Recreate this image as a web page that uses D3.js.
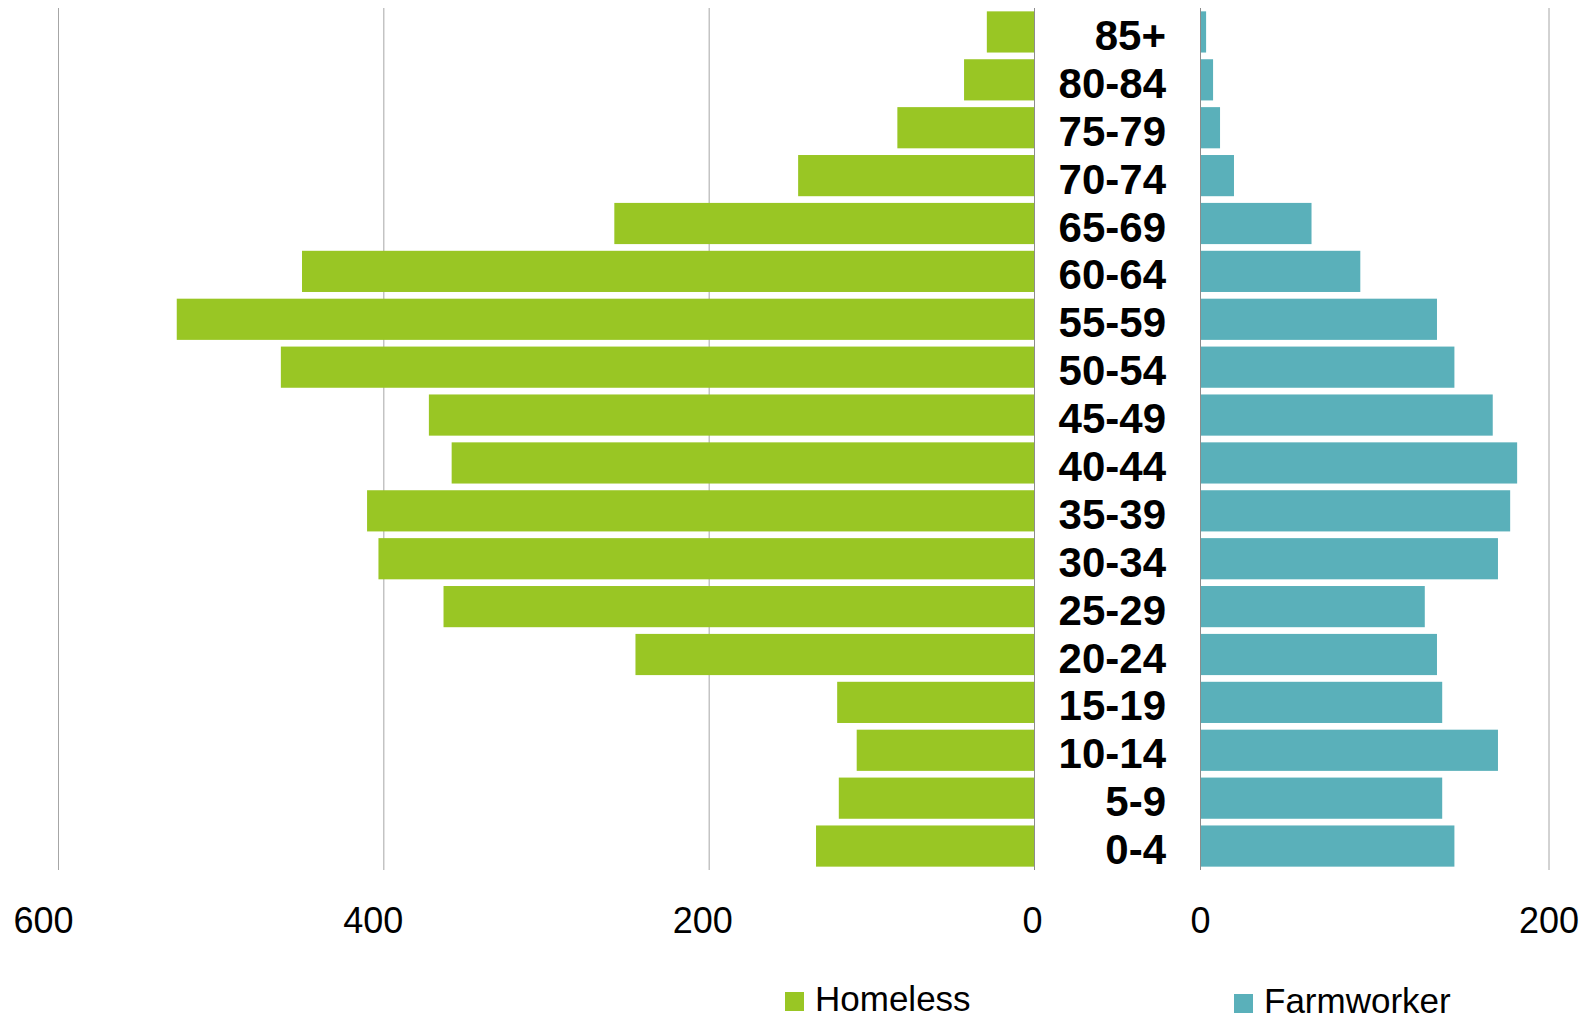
<!DOCTYPE html>
<html>
<head>
<meta charset="utf-8">
<script src="https://cdn.jsdelivr.net/npm/d3@7"></script>
<style>
  html, body { margin: 0; padding: 0; background: #fff; }
  svg { display: block; font-family: "Liberation Sans", Arial, sans-serif; }
</style>
</head>
<body>
<div id="chart"></div>
<script>
// age groups, top to bottom
const ageGroups = ["85+", "80-84", "75-79", "70-74", "65-69", "60-64", "55-59", "50-54", "45-49",
  "40-44", "35-39", "30-34", "25-29", "20-24", "15-19", "10-14", "5-9", "0-4"];
const homeless = [29, 43, 84, 145, 258, 450, 527, 463, 372, 358, 410, 403, 363, 245, 121, 109, 120, 134];
const farmworker = [3.5, 7.5, 11.5, 19.5, 64, 92, 136, 146, 168, 182, 178, 171, 129, 136, 139, 171, 139, 146];
const leftTicks = [600, 400, 200, 0];
const rightTicks = [0, 200];
const seriesNames = ["Homeless", "Farmworker"];

const width = 1585, height = 1021;
const green = "#99c624", teal = "#5ab0ba";

const svg = d3.select("#chart").append("svg")
  .attr("width", width)
  .attr("height", height);

const y = d3.scaleBand()
  .domain(ageGroups)
  .range([8, 870])
  .paddingInner(0.14)
  .paddingOuter(0.07);

const xLeft = d3.scaleLinear().domain([0, 600]).range([1034, 58]);
const xRight = d3.scaleLinear().domain([0, 200]).range([1200, 1548.5]);
// the left tick labels sit a bit off their gridlines in the original
const xLeftLabel = d3.scaleLinear().domain([0, 600]).range([1032, 43]);

// gridlines
svg.append("g")
  .selectAll("line")
  .data(leftTicks.filter(d => d !== 0))
  .join("line")
  .attr("x1", d => xLeft(d) + 0.5).attr("x2", d => xLeft(d) + 0.5)
  .attr("y1", 8).attr("y2", 870)
  .attr("stroke", "#a6a6a6").attr("stroke-width", 1);

svg.append("g")
  .selectAll("line")
  .data(rightTicks.filter(d => d !== 0))
  .join("line")
  .attr("x1", d => xRight(d) + 0.5).attr("x2", d => xRight(d) + 0.5)
  .attr("y1", 8).attr("y2", 870)
  .attr("stroke", "#a6a6a6").attr("stroke-width", 1);

// bars
svg.append("g")
  .selectAll("rect")
  .data(homeless)
  .join("rect")
  .attr("x", d => xLeft(d))
  .attr("y", (d, i) => y(ageGroups[i]))
  .attr("width", d => xLeft(0) - xLeft(d))
  .attr("height", y.bandwidth())
  .attr("fill", green);

svg.append("g")
  .selectAll("rect")
  .data(farmworker)
  .join("rect")
  .attr("x", xRight(0))
  .attr("y", (d, i) => y(ageGroups[i]))
  .attr("width", d => xRight(d) - xRight(0))
  .attr("height", y.bandwidth())
  .attr("fill", teal);

// zero lines
[xLeft(0), xRight(0)].forEach(x0 => {
  svg.append("line")
    .attr("x1", x0 + 0.5).attr("x2", x0 + 0.5)
    .attr("y1", 8).attr("y2", 870)
    .attr("stroke", "#8c8c8c").attr("stroke-width", 1);
});

// category labels
svg.append("g")
  .attr("font-size", 42)
  .attr("font-weight", "bold")
  .attr("text-anchor", "end")
  .attr("fill", "#000")
  .selectAll("text")
  .data(ageGroups)
  .join("text")
  .attr("x", 1166)
  .attr("y", d => y(d) + y.bandwidth() / 2 + 18)
  .text(d => d);

// axes (labels only)
const axLeft = svg.append("g")
  .attr("transform", "translate(0,900)")
  .call(d3.axisBottom(xLeftLabel).tickValues(leftTicks).tickSize(0).tickPadding(0));
const axRight = svg.append("g")
  .attr("transform", "translate(0,900)")
  .call(d3.axisBottom(xRight).tickValues(rightTicks).tickSize(0).tickPadding(0));
[axLeft, axRight].forEach(ax => {
  ax.select(".domain").remove();
  ax.selectAll("text")
    .attr("font-family", "Liberation Sans, Arial, sans-serif")
    .attr("font-size", 36)
    .attr("fill", "#000")
    .attr("dy", null)
    .attr("y", 33);
});

// legend
const legend = svg.append("g").attr("font-size", 35).attr("fill", "#000");
const legendX = [785, 1234];
const legendColors = [green, teal];
seriesNames.forEach((name, i) => {
  const g = legend.append("g").attr("transform", `translate(${legendX[i]},${991 + i * 2})`);
  g.append("rect").attr("y", 1).attr("width", 19).attr("height", 19).attr("fill", legendColors[i]);
  g.append("text").attr("x", 30).attr("y", 20).text(name);
});
</script>
</body>
</html>
